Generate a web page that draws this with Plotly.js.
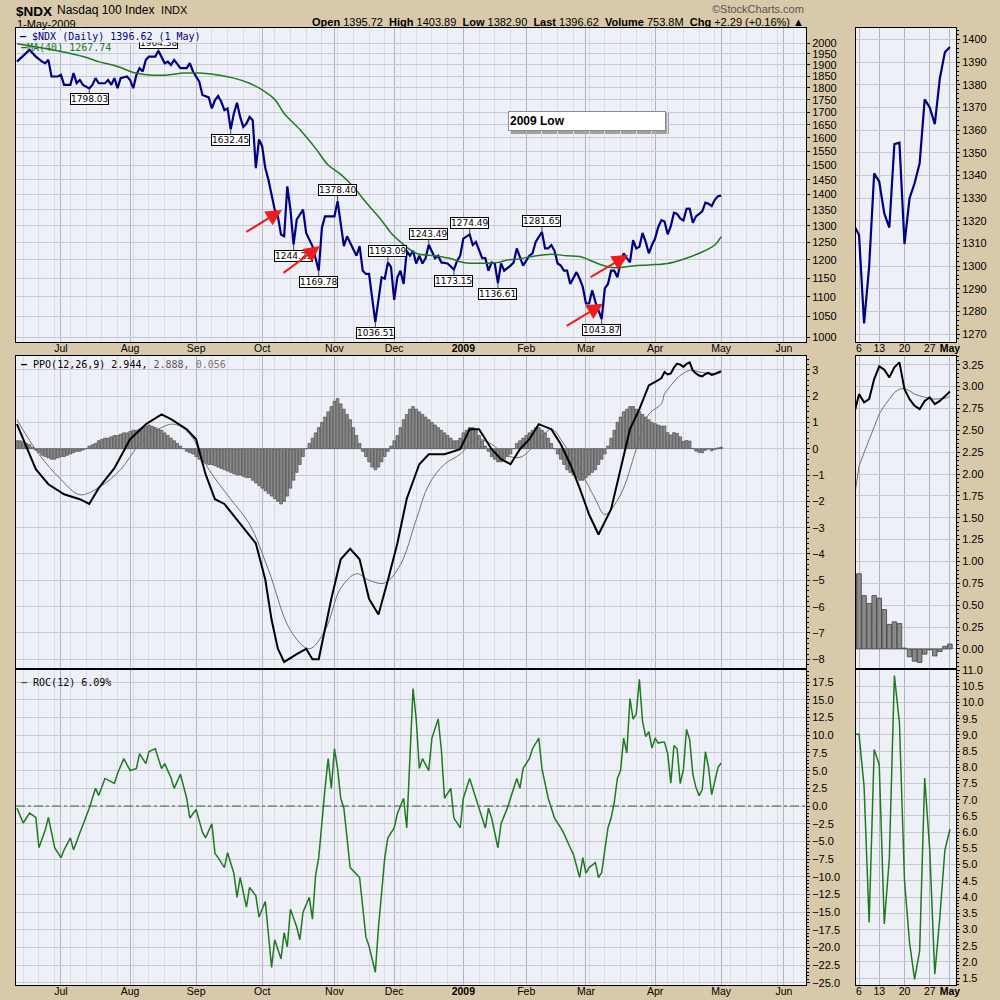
<!DOCTYPE html>
<html><head><meta charset="utf-8">
<script src="https://cdn.plot.ly/plotly-3.0.1.min.js"></script>
<style>html,body{margin:0;padding:0;background:#d8c9ab;}#chart{width:1000px;height:1000px;}</style>
</head><body><div id="chart"></div>
<script>
// x = trading-day index, 0 = 1-Jul-2008, 210 = 1-May-2009
const monthTickDays = [0,22,43,64,87,106,128,148,167,189,210,230];
const monthTickText = ['Jul','Aug','Sep','Oct','Nov','Dec','<b>2009</b>','Feb','Mar','Apr','May','Jun'];
const zoomTickDays = [192,196,201,206,210];
const zoomTickText = ['6','13','20','27','<b>May</b>'];

const priceDay = [-14,-10,-8,-6,-5,-4,-3,-1,0,1,3,4,5,6,7,9,10,11,12,14,15,16,17,18,19,21,22,23,24,25,26,27,28,30,31,32,33,34,35,36,38,40,41,42,43,44,45,47,48,49,50,51,52,53,54,55,56,57,58,59,60,61,62,63,64,65,66,67,68,69,70,71,72,73,74,75,77,78,80,82,83,84,87,88,89,90,91,93,94,95,96,97,98,100,101,102,103,104,105,106,107,108,109,110,111,112,113,114,115,116,117,118,119,120,121,123,125,126,127,128,129,130,131,132,134,135,136,137,138,139,140,141,143,144,145,146,147,149,150,151,153,154,155,156,157,158,159,160,161,162,164,165,166,167,168,169,170,172,173,174,175,176,177,178,179,180,181,182,183,184,185,186,187,188,189,190,191,192,193,194,195,196,197,198,199,200,201,202,203,204,205,206,207,208,209,210];
const priceVal = [1915,1969,1938,1915,1908,1923,1849,1849,1856,1813,1813,1864,1820,1834,1813,1798.03,1813,1842,1820,1820,1834,1813,1842,1799,1842,1849,1834,1799,1856,1886,1871,1923,1938,1938,1964.38,1938,1908,1915,1900,1923,1886,1886,1908,1871,1849,1827,1770,1760,1715,1749,1766,1742,1708,1715,1632.45,1695,1738,1681,1642,1655,1681,1668,1490,1594,1569,1490,1450,1405,1351,1330,1274,1269,1427,1351,1244.23,1320,1351,1279,1240,1169.78,1294,1330,1330,1378.40,1309,1240,1269,1231,1212,1240,1170,1161,1161,1036.51,1087,1152,1148,1193.09,1180,1092,1152,1170,1134,1226,1212,1226,1190,1212,1190,1205,1243.49,1226,1205,1212,1193,1190,1173.15,1197,1212,1262,1267,1274.49,1243,1252,1205,1205,1170,1193,1190,1136.61,1190,1170,1184,1193,1233,1205,1184,1212,1219,1252,1281.65,1233,1233,1243,1226,1190,1184,1170,1170,1134,1166,1148,1126,1083,1083,1117,1087,1043.87,1122,1134,1170,1170,1152,1193,1219,1205,1193,1257,1233,1238,1279,1252,1219,1243,1262,1297,1318,1313.7,1274.7,1299.7,1340.9,1337.2,1323.2,1317,1353.8,1354.4,1309.7,1329.9,1336.5,1345.3,1373.5,1370,1362.6,1382.8,1394.3,1396.62];

const maDay = [-14,0,7,12,18,23,28,34,39,44,50,55,60,64,68,71,76,81,85,89,93,97,102,105,108,113,119,124,128,139,142,145,150,156,161,165,168,172,176,182,187,193,198,203,208,210];
const maVal = [1997,1961,1938,1915,1893,1867,1856,1856,1864,1864,1856,1842,1820,1792,1752,1695,1632,1561,1501,1468,1426,1375,1317,1279,1252,1219,1212,1204,1193,1193,1200,1202,1210,1216,1212,1210,1200,1186,1178,1183,1186,1190,1202,1219,1243,1267.74];

const ppoDay = [-14,-12,-8,-4,1,6,9,12,17,22,27,32,35,40,43,46,49,52,57,62,65,67,69,71,75,78,80,82,86,89,92,95,98,101,104,107,110,114,117,122,127,130,133,137,140,143,146,149,152,156,159,162,165,168,171,175,178,181,184,187,190,191,192,193,194,195,196,197,198,199,200,201,202,203,204,205,206,207,208,209,210];
const ppoVal = [0.93,0.36,-0.78,-1.35,-1.73,-1.92,-2.1,-1.5,-0.74,0.36,0.93,1.3,1.12,0.74,0.36,-0.97,-1.92,-2.1,-2.87,-3.6,-4.97,-6.5,-7.6,-8.1,-7.8,-7.6,-8.0,-8.0,-5.7,-4.2,-3.8,-4.2,-5.7,-6.3,-5.0,-3.6,-1.9,-0.59,-0.21,-0.21,-0.02,0.74,0.74,-0.02,-0.4,-0.59,-0.02,0.36,0.93,0.74,0.17,-0.59,-1.5,-2.5,-3.26,-2.3,-0.78,0.74,1.5,2.4,2.6,2.68,2.914,2.82,2.857,3.086,3.232,3.193,3.105,3.22,3.277,2.97,2.857,2.78,2.742,2.837,2.876,2.8,2.837,2.894,2.944];

const sigDay = [-14,-7,0,6,12,19,25,31,36,41,47,54,60,66,73,79,84,89,94,98,103,108,113,117,122,127,132,137,141,146,151,156,160,165,170,173,178,183,187,191,192,193,194,195,196,197,198,199,200,201,202,203,204,205,206,207,208,209,210];
const sigVal = [1.1,-0.21,-1.17,-1.75,-1.48,-0.79,0.17,0.74,0.93,0.55,-0.78,-1.92,-2.87,-4.6,-6.9,-7.6,-6.9,-5.3,-4.75,-5.0,-5.1,-4.4,-2.7,-1.37,-0.59,-0.21,0.36,0.17,-0.21,-0.33,0.17,0.74,0.17,-0.78,-1.92,-2.5,-1.75,-0.02,1.31,1.7,2.092,2.245,2.398,2.55,2.685,2.78,2.857,2.933,2.97,2.98,2.952,2.914,2.894,2.876,2.865,2.857,2.857,2.865,2.888];

const histStartDay = -14;
const histVal = [0.3,0.3,0.25,0.2,0.15, 0.05,-0.05,-0.15,-0.25,-0.3, -0.35,-0.4,-0.4,-0.35,-0.3, -0.3,-0.25,-0.2,-0.15,-0.1, -0.1,-0.05,0.0,0.1,0.15, 0.2,0.3,0.35,0.4,0.4, 0.45,0.5,0.5,0.55,0.6, 0.6,0.65,0.7,0.7,0.75, 0.8,0.85,0.9,0.85,0.8, 0.75,0.7,0.6,0.5,0.4, 0.3,0.2,0.1,0.0,-0.1, -0.15,-0.2,-0.3,-0.4,-0.5, -0.55,-0.6,-0.6,-0.65,-0.7, -0.75,-0.8,-0.85,-0.9,-0.95, -1.0,-1.0,-1.05,-1.1,-1.1, -1.2,-1.3,-1.4,-1.5,-1.6, -1.7,-1.8,-1.9,-2.0,-2.1, -2.0,-1.8,-1.5,-1.2,-0.9, -0.6,-0.3,0.0,0.2,0.4, 0.6,0.8,1.0,1.2,1.4, 1.6,1.8,1.9,1.7,1.5, 1.3,1.1,0.8,0.5,0.2, -0.1,-0.3,-0.5,-0.7,-0.8, -0.7,-0.5,-0.3,-0.1,0.1, 0.3,0.5,0.8,1.1,1.3, 1.5,1.6,1.5,1.4,1.3, 1.2,1.1,1.0,0.9,0.8, 0.7,0.6,0.5,0.4,0.3, 0.3,0.4,0.6,0.7,0.8, 0.8,0.7,0.5,0.3,0.1, -0.1,-0.3,-0.4,-0.5,-0.5, -0.4,-0.3,-0.2,0.0,0.2, 0.3,0.4,0.5,0.6,0.7, 0.8,0.8,0.7,0.6,0.4, 0.2,0.0,-0.2,-0.4,-0.6, -0.8,-0.9,-1.0,-1.1,-1.2, -1.2,-1.1,-1.0,-0.9,-0.8, -0.6,-0.4,-0.2,0.1,0.4, 0.7,1.0,1.2,1.4,1.5, 1.6,1.6,1.5,1.4,1.3, 1.2,1.1,1.0,0.95,0.9, 0.86,0.86,0.61,0.52,0.61,0.58,0.45,0.28,0.31,0.29,0.01,-0.09,-0.14,-0.155,-0.06,-0.01,-0.08,-0.03,0.03,0.056];

const rocDay = [
  -14,-12,-10,-8,-7,-5,-4,-2,0,1,
  3,4,6,8,9,11,12,14,17,18,
  20,22,24,25,27,28,30,32,33,35,
  36,38,40,41,43,45,46,48,49,50,
  52,53,55,56,57,59,60,62,63,65,
  67,68,70,71,72,73,75,76,77,79,
  80,81,82,84,85,86,87,88,89,90,
  92,95,96,97,98,100,101,103,104,106,
  107,109,110,112,113,114,115,117,118,120,
  121,122,124,125,127,128,130,131,133,135,
  136,137,139,140,142,143,145,146,147,149,
  150,152,153,155,156,157,159,160,162,163,
  165,166,167,168,170,171,172,174,175,176,
  177,178,179,180,181,182,183,184,185,186,
  187,188,189,190,
  191,192,193,194,195,196,197,198,199,200,201,202,203,204,205,206,207,208,209,210];
const rocVal = [
  -0.3,-2.4,-1.0,-1.6,-5.9,-3.4,-1.6,-5.9,-7.3,-6.2,
  -4.5,-6.2,-3.8,-1.6,-0.3,2.5,1.5,3.9,3.2,4.6,
  6.7,5.0,5.3,7.4,6.0,7.7,8.1,5.3,6.0,4.0,
  2.5,4.5,1.1,-1.7,-0.5,-3.7,-4.5,-2.5,-6.7,-7.3,
  -8.7,-6.6,-9.5,-12.9,-10.1,-14.3,-11.5,-12.7,-15.7,-13.5,
  -22.8,-18.9,-21.6,-17.9,-19.9,-14.6,-17.1,-18.9,-15.0,-12.9,
  -16.0,-9.8,-7.3,2.5,6.7,2.5,8.1,5.3,1.1,-0.3,
  -8.7,-10.1,-14.1,-18.5,-19.8,-23.5,-17.2,-7.3,-4.5,-3.1,
  -1.1,1.1,-3.1,16.6,12.3,5.3,6.7,5.0,9.6,12.3,
  8.0,1.1,2.5,-1.7,-3.1,1.1,3.9,2.5,-0.3,-3.1,
  -0.3,-1.7,-5.9,-2.5,-0.3,1.1,3.9,2.5,5.3,6.7,
  8.1,9.6,5.3,1.1,-0.3,-1.7,-3.1,-3.9,-5.9,-6.8,
  -10.1,-7.3,-9.5,-8.7,-8.0,-10.1,-9.4,-3.1,-1.7,0.5,
  3.9,5.0,9.6,7.5,15.2,12.3,13.0,17.9,12.0,9.8,
  10.5,8.2,9.6,8.9,
  9.02,9.02,7.41,3.22,8.55,8.09,3.17,5.19,10.83,9.38,4.52,2.6,1.46,2.34,7.67,5.45,1.62,3.38,5.45,6.09];

// labelled turning points: day and offset of the box (px, + = below the point)
const pointLabelDays = [9,31,54,74,82,88,100,104,117,125,130,139,153,172];
const pointLabelOffset = [11,-8,11,11,11,-11,11,-11,-11,11,-11,11,-11,11];
// red arrows (tail -> head), in trading days and index points
const arrowTailDay = [58.5,70.3,160.4,168.0];
const arrowTailVal = [1279,1161,1025,1150];
const arrowHeadDay = [70.3,82.4,172.4,180.4];
const arrowHeadVal = [1350,1240,1082,1214];

const NAVY='#000080', GREEN='#1f7a1f', TAN='#d8c9ab', PLOT='#eef0f8';
const histDays = histVal.map((v,i)=>histStartDay+i);
const valAt = d => priceVal[priceDay.indexOf(d)];

const traces = [
  {x:priceDay,y:priceVal,xaxis:'x',yaxis:'y',type:'scatter',mode:'lines',line:{color:NAVY,width:2.2}},
  {x:maDay,y:maVal,xaxis:'x',yaxis:'y',type:'scatter',mode:'lines',line:{color:GREEN,width:1.5,shape:'spline'}},
  {x:histDays,y:histVal,xaxis:'x2',yaxis:'y2',type:'bar',width:0.85,marker:{color:'#8a8a8a',line:{color:'#404040',width:0.6}}},
  {x:sigDay,y:sigVal,xaxis:'x2',yaxis:'y2',type:'scatter',mode:'lines',line:{color:'#707070',width:1,shape:'spline'}},
  {x:ppoDay,y:ppoVal,xaxis:'x2',yaxis:'y2',type:'scatter',mode:'lines',line:{color:'#000',width:2}},
  {x:rocDay,y:rocVal,xaxis:'x3',yaxis:'y3',type:'scatter',mode:'lines',line:{color:GREEN,width:1.5}},
  {x:priceDay,y:priceVal,xaxis:'x4',yaxis:'y4',type:'scatter',mode:'lines',line:{color:NAVY,width:2.2}},
  {x:histDays,y:histVal,xaxis:'x5',yaxis:'y5',type:'bar',width:0.9,marker:{color:'#8a8a8a',line:{color:'#404040',width:0.8}}},
  {x:sigDay,y:sigVal,xaxis:'x5',yaxis:'y5',type:'scatter',mode:'lines',line:{color:'#707070',width:1}},
  {x:ppoDay,y:ppoVal,xaxis:'x5',yaxis:'y5',type:'scatter',mode:'lines',line:{color:'#000',width:2}},
  {x:rocDay,y:rocVal,xaxis:'x6',yaxis:'y6',type:'scatter',mode:'lines',line:{color:GREEN,width:1.5}}
];

const py = p => 1 - p/1000;
const px = p => p/1000;
const mainDom = [px(16),px(806)], zoomDom=[px(856),px(956)];
const dom1=[py(342),py(28)], dom2=[py(668),py(356)], dom3=[py(985),py(670)];
const SANS = 'Liberation Sans, Arial, sans-serif';
const tickFont = {family:SANS,size:11,color:'#000'};
const xTickFont = {family:SANS,size:10.5,color:'#000'};
const gridC = '#c9c9d3';
function xa(dom,anchor,range,tv,tt,showLab){
  return {domain:dom,anchor:anchor,range:range,tickmode:'array',tickvals:tv,ticktext:tt,showticklabels:showLab,
    ticks:'',ticklabelstandoff:-4,showgrid:true,gridcolor:'#b4b4be',gridwidth:1,zeroline:false,showline:true,mirror:true,linecolor:'#000',linewidth:1,
    tickfont:xTickFont,fixedrange:true,
    minor:{tick0:3,dtick:5,showgrid:true,gridcolor:'#dcdce6',gridwidth:1}};
}
function ya(dom,anchor,range,extra){
  return Object.assign({domain:dom,anchor:anchor,range:range,side:'right',ticks:'outside',ticklen:3,tickcolor:'#000',
    showgrid:true,gridcolor:gridC,zeroline:false,showline:true,mirror:true,linecolor:'#000',linewidth:1,tickfont:tickFont,fixedrange:true},extra);
}
const priceTicks=[]; for(let v=1000; v<=2000; v+=50) priceTicks.push(v);

const annotations = [];
function txt(x,y,text,opts){annotations.push(Object.assign({xref:'paper',yref:'paper',x:px(x),y:py(y),text:text,showarrow:false,xanchor:'left',yanchor:'middle',font:{family:SANS,size:11,color:'#000'}},opts||{}));}
// value labels (drawn first, legend sits on top as in the original)
pointLabelDays.forEach((d,i)=>{
  annotations.push({xref:'x',yref:'y',x:d,y:Math.log10(valAt(d)),text:valAt(d).toFixed(2),showarrow:true,arrowhead:0,arrowwidth:1,arrowcolor:'#444',
    ax:0,ay:pointLabelOffset[i],standoff:0,bgcolor:'#ffffff',bordercolor:'#000',borderwidth:1,borderpad:0,
    font:{family:'DejaVu Sans, sans-serif',size:9,color:'#000'}});
});
// red arrows
arrowHeadDay.forEach((d,i)=>{
  annotations.push({xref:'x',yref:'y',axref:'x',ayref:'y',x:d,y:Math.log10(arrowHeadVal[i]),ax:arrowTailDay[i],ay:Math.log10(arrowTailVal[i]),
    text:'',showarrow:true,arrowhead:2,arrowsize:1.6,arrowwidth:2,arrowcolor:'#ee1c1c',standoff:0});
});
// header
txt(14,11,'<b>$NDX</b>',{font:{family:SANS,size:13.5,color:'#000'}});
txt(55,10,'Nasdaq 100 Index  <span style="font-size:11px">INDX</span>',{font:{family:SANS,size:12,color:'#000'}});
txt(15,24,'1-May-2009',{font:{family:SANS,size:11,color:'#000'}});
txt(806,9,'©StockCharts.com',{xanchor:'right',font:{family:SANS,size:11,color:'#555'}});
txt(806,22,'<b>Open</b> 1395.72  <b>High</b> 1403.89  <b>Low</b> 1382.90  <b>Last</b> '+priceVal[priceVal.length-1].toFixed(2)+'  <b>Volume</b> 753.8M  <b>Chg</b> +2.29 (+0.16%) ▲',{xanchor:'right',font:{family:SANS,size:11,color:'#000'}});
// panel legends
const mono = 'DejaVu Sans Mono, monospace';
txt(19,36,'<b>—</b> $NDX (Daily) '+priceVal[priceVal.length-1].toFixed(2)+' (1 May)',{font:{family:mono,size:10,color:NAVY},bgcolor:PLOT,borderpad:0});
txt(19,47,'<b>—</b>MA(40) '+maVal[maVal.length-1].toFixed(2),{font:{family:mono,size:10,color:GREEN}});
txt(19,364,'<b>—</b> PPO(12,26,9) '+ppoVal[ppoVal.length-1].toFixed(3)+', <span style="color:#555">'+sigVal[sigVal.length-1].toFixed(3)+', </span><span style="color:#777">'+histVal[histVal.length-1].toFixed(3)+'</span>',{font:{family:mono,size:10,color:'#000'}});
txt(19,682,'<span style="color:'+GREEN+'"><b>—</b></span> ROC(12) '+rocVal[rocVal.length-1].toFixed(2)+'%',{font:{family:mono,size:10,color:'#000'}});
// 2009 Low box
annotations.push({xref:'paper',yref:'paper',x:px(508),y:py(111),xanchor:'left',yanchor:'top',showarrow:false,
  text:'<b>2009 Low</b>',align:'left',width:154,height:16,bgcolor:'#ffffff',bordercolor:'#8c8c8c',borderwidth:1,borderpad:1,
  font:{family:SANS,size:12,color:'#000'}});

const shapes = [
  {type:'rect',xref:'paper',yref:'paper',x0:px(510),x1:px(669),y0:py(134),y1:py(113),fillcolor:'#a0a0a0',line:{width:0},layer:'below'},
  {type:'line',xref:'x3 domain',yref:'y3',x0:0,x1:1,y0:0,y1:0,line:{color:'#2d6e2d',width:1,dash:'dashdot'}}
];

const layout = {
  width:1000,height:1000,margin:{l:0,r:0,t:0,b:0},paper_bgcolor:TAN,plot_bgcolor:PLOT,showlegend:false,bargap:0,
  xaxis: xa(mainDom,'y',[-14.3,237],monthTickDays,monthTickText,true),
  yaxis: ya(dom1,'x',[Math.log10(989),Math.log10(2073)],{type:'log',tickmode:'array',tickvals:priceTicks,ticktext:priceTicks.map(String)}),
  xaxis2: xa(mainDom,'y2',[-14.3,237],monthTickDays,monthTickText,false),
  yaxis2: ya(dom2,'x2',[-8.33,3.52],{dtick:1,tick0:0,minor:{dtick:0.2,ticks:'outside',ticklen:2,tickcolor:'#000'}}),
  xaxis3: xa(mainDom,'y3',[-14.3,237],monthTickDays,monthTickText,true),
  yaxis3: ya(dom3,'x3',[-25.3,19.23],{dtick:2.5,tick0:0,tickformat:'.1f',minor:{dtick:0.5,ticks:'outside',ticklen:2,tickcolor:'#000'}}),
  xaxis4: Object.assign(xa(zoomDom,'y4',[191.4,211.2],zoomTickDays,zoomTickText,true),{minor:{showgrid:false}}),
  yaxis4: ya(dom1,'x4',[1266.5,1405],{dtick:10,tick0:0,minor:{dtick:2,ticks:'outside',ticklen:2,tickcolor:'#000'}}),
  xaxis5: Object.assign(xa(zoomDom,'y5',[191.4,211.2],zoomTickDays,zoomTickText,false),{minor:{showgrid:false}}),
  yaxis5: ya(dom2,'x5',[-0.218,3.35],{dtick:0.25,tick0:0,tickformat:'.2f',minor:{dtick:0.05,ticks:'outside',ticklen:2,tickcolor:'#000'}}),
  xaxis6: Object.assign(xa(zoomDom,'y6',[191.4,211.2],zoomTickDays,zoomTickText,true),{minor:{showgrid:false}}),
  yaxis6: ya(dom3,'x6',[1.29,11.0],{dtick:0.5,tick0:0,tickformat:'.1f',minor:{dtick:0.1,ticks:'outside',ticklen:2,tickcolor:'#000'}}),
  annotations:annotations, shapes:shapes
};
Plotly.newPlot('chart',traces,layout,{staticPlot:true,displayModeBar:false});
</script></body></html>
